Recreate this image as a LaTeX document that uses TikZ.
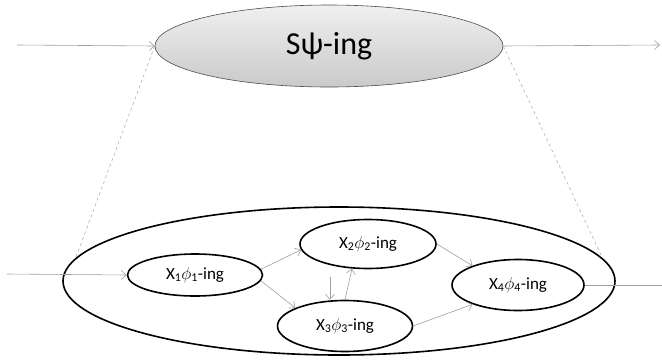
\documentclass[tikz,border=0pt]{standalone}
\usepackage{fontspec}
\setmainfont{Carlito}
\usetikzlibrary{shapes.geometric, arrows.meta}

\newcommand{\proc}[1]{X\textsubscript{#1}$\phi$\textsubscript{#1}-ing}

\begin{document}
\begin{tikzpicture}[
  x=1pt, y=-1pt,
  every node/.style={font=\fontsize{17}{20}\selectfont},
  stage/.style={ellipse, draw, line width=1.6pt, inner sep=0pt},
  flow/.style={draw=gray!75, -{Straight Barb[length=5pt, width=9pt]}, line width=0.6pt},
  guide/.style={draw=gray!70, dashed, line width=0.5pt}
]

\useasboundingbox (0,0) rectangle (662,360);

% the whole process
\node[ellipse, draw=gray!60!black, line width=0.6pt, top color=gray!12,
  bottom color=gray!42, minimum width=348pt, minimum height=82pt,
  font=\fontsize{32}{38}\selectfont] (whole) at (329,46) {Sψ-ing};

% its parts
\node[stage, minimum width=552pt, minimum height=148pt] (outer) at (339,281) {};
\node[stage, minimum width=135pt, minimum height=42pt] (X1) at (195,275) {\proc{1}};
\node[stage, minimum width=136pt, minimum height=49pt] (X2) at (368,244) {\proc{2}};
\node[stage, minimum width=135pt, minimum height=51pt] (X3) at (345,326) {\proc{3}};
\node[stage, minimum width=132pt, minimum height=51pt] (X4) at (518,285) {\proc{4}};

\coordinate (topin) at (17,45);
\coordinate (topout) at (660,45);
\coordinate (lowin) at (7,274);
\coordinate (lowout) at (662,285);

\draw[flow] (topin) -- (whole.west);
\draw[flow] (whole.east) -- (topout);
\draw[guide] (whole.west) -- (outer.175.5);
\draw[guide] (whole.east) -- (outer.5.2);

\draw[flow] (lowin) -- (X1.west);
\draw[flow] (X1.5) -- (X2.185);
\draw[flow] (X1.355) -- (X3.160);
\draw[flow, shorten <=12pt] (X2.209) -- (X2.209 |- X3.north);
\draw[flow] (X3.north) -- (X2.237);
\draw[flow] (X2.east) -- (X4.157);
\draw[flow] (X3.east) -- (X4.203);
\draw[draw=gray!75, line width=0.6pt] (X4.east) -- (lowout);

\end{tikzpicture}
\end{document}
